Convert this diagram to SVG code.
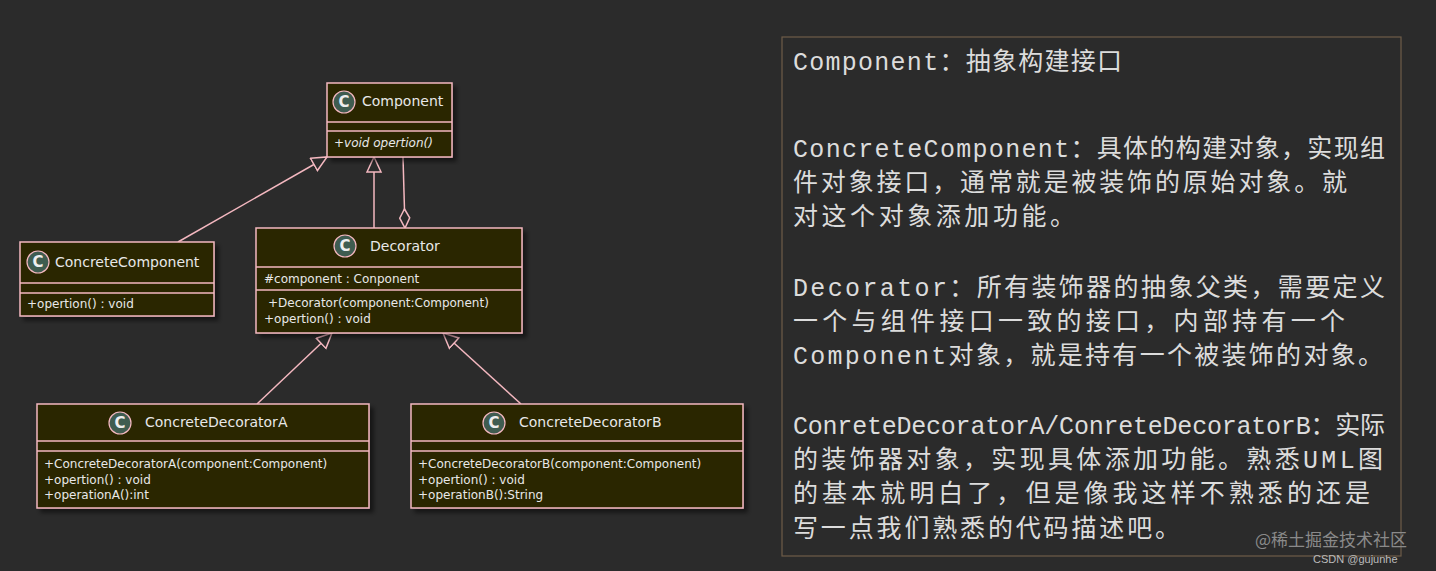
<svg xmlns="http://www.w3.org/2000/svg" width="1436" height="571" viewBox="0 0 1436 571">
<defs>
<style>
.box{fill:#2a2504;stroke:#f4b8c0;stroke-width:1.5}
.ln{stroke:#f4b8c0;stroke-width:1.5;fill:none}
.ic{fill:#3f5c50;stroke:#f4b8c0;stroke-width:1.2}
.ict{font-family:"DejaVu Sans",sans-serif;font-size:15px;font-weight:bold;fill:#eee;text-anchor:middle}
.t{font-family:"DejaVu Sans",sans-serif;font-size:14px;fill:#e8e8e8}
.m{font-family:"DejaVu Sans",sans-serif;font-size:12px;fill:#e8e8e8}
.p{font-family:"Liberation Mono","Noto Sans CJK SC",monospace;font-size:25px;fill:#dcdcdc}
</style>
<filter id="sh"><feDropShadow dx="4" dy="4" stdDeviation="2" flood-color="#000" flood-opacity="0.5"/></filter>
<marker id="tri" markerWidth="18" markerHeight="18" refX="16" refY="8" orient="auto" markerUnits="userSpaceOnUse"><path d="M1,1 L16,8 L1,15 Z" fill="#2b2b2b" stroke="#f4b8c0" stroke-width="1.5"/></marker>
<marker id="dia" markerWidth="22" markerHeight="12" refX="20" refY="6" orient="auto" markerUnits="userSpaceOnUse"><path d="M1,6 L10,1 L20,6 L10,11 Z" fill="#2b2b2b" stroke="#f4b8c0" stroke-width="1.5"/></marker>
</defs>
<rect width="1436" height="571" fill="#2b2b2b"/>
<g id="connectors">
<line class="ln" x1="178" y1="242" x2="327" y2="157" marker-end="url(#tri)"/>
<line class="ln" x1="374" y1="228" x2="374" y2="157" marker-end="url(#tri)"/>
<line class="ln" x1="403" y1="157" x2="405" y2="228" marker-end="url(#dia)"/>
<line class="ln" x1="257" y1="404" x2="332" y2="333" marker-end="url(#tri)"/>
<line class="ln" x1="521" y1="404" x2="443" y2="333" marker-end="url(#tri)"/>
</g>
<g id="Component">
<rect class="box" x="327" y="83" width="125" height="74" filter="url(#sh)"/>
<line class="ln" x1="327" y1="122" x2="452" y2="122"/><line class="ln" x1="327" y1="131" x2="452" y2="131"/>
<circle class="ic" cx="344" cy="102" r="11"/><text class="ict" x="344" y="107">C</text>
<text class="t" x="362" y="106">Component</text>
<text class="m" x="334" y="147" font-style="italic">+void opertion()</text>
</g>
<g id="ConcreteComponent">
<rect class="box" x="20" y="242" width="194" height="74" filter="url(#sh)"/>
<line class="ln" x1="20" y1="283" x2="214" y2="283"/><line class="ln" x1="20" y1="293" x2="214" y2="293"/>
<circle class="ic" cx="38" cy="262" r="11"/><text class="ict" x="38" y="267">C</text>
<text class="t" x="55" y="267">ConcreteComponent</text>
<text class="m" x="27" y="308">+opertion() : void</text>
</g>
<g id="Decorator">
<rect class="box" x="256" y="228" width="266" height="105" filter="url(#sh)"/>
<line class="ln" x1="256" y1="267" x2="522" y2="267"/><line class="ln" x1="256" y1="290" x2="522" y2="290"/>
<circle class="ic" cx="345" cy="246" r="11"/><text class="ict" x="345" y="251">C</text>
<text class="t" x="370" y="251">Decorator</text>
<text class="m" x="264" y="283">#component : Conponent</text>
<text class="m" x="268" y="307">+Decorator(component:Component)</text>
<text class="m" x="264" y="323">+opertion() : void</text>
</g>
<g id="ConcreteDecoratorA">
<rect class="box" x="37" y="404" width="332" height="104" filter="url(#sh)"/>
<line class="ln" x1="37" y1="441" x2="369" y2="441"/><line class="ln" x1="37" y1="451" x2="369" y2="451"/>
<circle class="ic" cx="120" cy="423" r="11"/><text class="ict" x="120" y="428">C</text>
<text class="t" x="145" y="427">ConcreteDecoratorA</text>
<text class="m" x="44" y="468">+ConcreteDecoratorA(component:Component)</text>
<text class="m" x="44" y="484">+opertion() : void</text>
<text class="m" x="44" y="499">+operationA():int</text>
</g>
<g id="ConcreteDecoratorB">
<rect class="box" x="411" y="404" width="332" height="104" filter="url(#sh)"/>
<line class="ln" x1="411" y1="441" x2="743" y2="441"/><line class="ln" x1="411" y1="451" x2="743" y2="451"/>
<circle class="ic" cx="494" cy="423" r="11"/><text class="ict" x="494" y="428">C</text>
<text class="t" x="519" y="427">ConcreteDecoratorB</text>
<text class="m" x="418" y="468">+ConcreteDecoratorB(component:Component)</text>
<text class="m" x="418" y="484">+opertion() : void</text>
<text class="m" x="418" y="499">+operationB():String</text>
</g>
<g id="notes">
<rect x="782" y="37" width="619" height="519" fill="#2b2b2b" stroke="#6e5c48" stroke-width="1.2"/>
<text class="p" x="793" y="70" textLength="329" lengthAdjust="spacing">Component：抽象构建接口</text>
<text class="p" x="793" y="157" textLength="592" lengthAdjust="spacing">ConcreteComponent：具体的构建对象，实现组</text>
<text class="p" x="793" y="191" textLength="554" lengthAdjust="spacing">件对象接口，通常就是被装饰的原始对象。就</text>
<text class="p" x="793" y="225" textLength="282" lengthAdjust="spacing">对这个对象添加功能。</text>
<text class="p" x="793" y="296" textLength="592" lengthAdjust="spacing">Decorator：所有装饰器的抽象父类，需要定义</text>
<text class="p" x="793" y="330" textLength="552" lengthAdjust="spacing">一个与组件接口一致的接口，内部持有一个</text>
<text class="p" x="793" y="364" textLength="590" lengthAdjust="spacing">Component对象，就是持有一个被装饰的对象。</text>
<text class="p" x="793" y="434" textLength="592" lengthAdjust="spacing">ConreteDecoratorA/ConreteDecoratorB：实际</text>
<text class="p" x="793" y="468" textLength="590" lengthAdjust="spacing">的装饰器对象，实现具体添加功能。熟悉UML图</text>
<text class="p" x="793" y="502" textLength="577" lengthAdjust="spacing">的基本就明白了，但是像我这样不熟悉的还是</text>
<text class="p" x="793" y="537" textLength="387" lengthAdjust="spacing">写一点我们熟悉的代码描述吧。</text>
<text x="1255" y="546" font-family="'Noto Sans CJK SC',sans-serif" font-size="17" fill="#8a8a8a">@稀土掘金技术社区</text>
<text x="1313" y="563" font-family="'Liberation Sans',sans-serif" font-size="11" fill="#bbb">CSDN @gujunhe</text>
</g>
</svg>
